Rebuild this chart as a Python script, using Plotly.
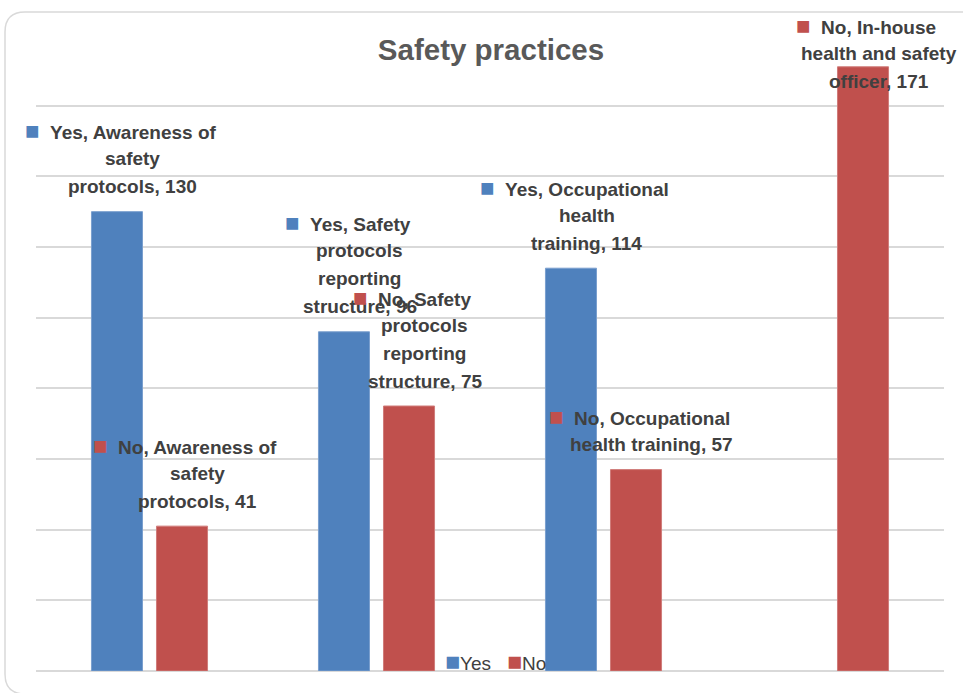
import plotly.graph_objects as go

# chart data
categories = [
    "Awareness of safety protocols",
    "Safety protocols reporting structure",
    "Occupational health training",
    "In-house health and safety officer",
]
yes_values = [130, 96, 114, None]
no_values = [41, 75, 57, 171]

# how many words go on each line of the data labels (Excel wrapping)
yes_wrap = [[3, 1, 2], [2, 1, 1, 2], [2, 1, 2], None]
no_wrap = [[3, 1, 2], [2, 1, 1, 2], [2, 3], [2, 3, 2]]

YES_COLOR = "#4F81BD"
NO_COLOR = "#C0504D"
TEXT_COLOR = "#404040"
GRID_COLOR = "#D9D9D9"
LABEL_FONT = "Liberation Sans, Arial, sans-serif"

W, H = 963, 693
L, R, T, B = 36, 19, 35, 22
Y_MAX = 180
plot_w = W - L - R
plot_h = H - T - B


def X(px):
    return (px - L) / plot_w


def Y(py):
    return (H - B - py) / plot_h


fig = go.Figure()
fig.add_trace(go.Bar(x=categories, y=yes_values, name="Yes",
                     marker=dict(color=YES_COLOR, line=dict(color="#7A9FCE", width=1))))
fig.add_trace(go.Bar(x=categories, y=no_values, name="No",
                     marker=dict(color=NO_COLOR, line=dict(color="#D07C7A", width=1))))

# data labels: legend key + "series, category, value", wrapped over several lines
LINE_H = 28
GAP = 25
KEY = "<span style='color:{};font-size:24px'>\u25A0</span>"


def add_labels(series, values, wraps, color, offset):
    for cat, val, wrap in zip(categories, values, wraps):
        if val is None:
            continue
        words = f"{series}, {cat}, {val}".split(" ")
        lines = []
        i = 0
        for n in wrap:
            lines.append(" ".join(words[i:i + n]))
            i += n
        nl = len(lines)
        bar_top = H - B - val * plot_h / Y_MAX
        top_line = bar_top - GAP - LINE_H * (nl - 1)
        push = max(0, 25 - top_line)  # keep label inside chart area
        for j, line in enumerate(lines):
            if j == 0:
                # coloured key on the left, invisible twin on the right keeps the text centred
                line = (KEY.format(color) + "\u00a0\u00a0" + line
                        + "\u00a0\u00a0" + KEY.format("rgba(0,0,0,0)"))
            fig.add_annotation(
                x=cat, y=val, xref="x", yref="y",
                text=line, showarrow=False,
                xanchor="center", yanchor="middle",
                xshift=offset + 15.5,
                yshift=GAP + LINE_H * (nl - 1 - j) - push,
                font=dict(family=LABEL_FONT, size=19, color=TEXT_COLOR, weight="bold"),
            )


add_labels("Yes", yes_values, yes_wrap, YES_COLOR, -32.5)
add_labels("No", no_values, no_wrap, NO_COLOR, 32.5)

# legend drawn like Excel's compact one
fig.add_annotation(
    x=X(495), y=Y(661), xref="paper", yref="paper",
    text=(f"<span style='color:{YES_COLOR};font-size:25px'>\u25A0</span>Yes\u00a0\u00a0\u00a0"
          f"<span style='color:{NO_COLOR};font-size:25px'>\u25A0</span>No"),
    showarrow=False, xanchor="center", yanchor="middle",
    font=dict(family=LABEL_FONT, size=19, color="#404040"),
)

# rounded chart border
x0, y0, x1, y1, r = 5, 12, 1000, 694, 20
border = (f"M {X(x0 + r)},{Y(y0)} L {X(x1)},{Y(y0)} L {X(x1)},{Y(y1)} "
          f"L {X(x0 + r)},{Y(y1)} Q {X(x0)},{Y(y1)} {X(x0)},{Y(y1 - r)} "
          f"L {X(x0)},{Y(y0 + r)} Q {X(x0)},{Y(y0)} {X(x0 + r)},{Y(y0)} Z")
fig.add_shape(type="path", path=border, xref="paper", yref="paper",
              line=dict(color=GRID_COLOR, width=1.5), layer="below")

fig.update_layout(
    width=W, height=H,
    margin=dict(l=L, r=R, t=T, b=B),
    paper_bgcolor="white", plot_bgcolor="white",
    barmode="group", bargap=0.427, bargroupgap=0.215,
    showlegend=False,
    title=dict(text="<b>Safety practices</b>", x=X(491), xref="paper",
               y=1 - 50 / H, yanchor="middle", xanchor="center",
               font=dict(family=LABEL_FONT, size=29.5, color="#595959")),
    xaxis=dict(range=[-0.5, 3.5], showticklabels=False, showline=False,
               showgrid=False, zeroline=False),
    yaxis=dict(range=[0, Y_MAX], dtick=20, showticklabels=False, showline=False,
               gridcolor=GRID_COLOR, gridwidth=1.5, zeroline=True,
               zerolinecolor=GRID_COLOR, zerolinewidth=1.5),
)

fig.write_html("out.html", config={"displayModeBar": False},
               post_script="document.body.style.margin = '0';")
